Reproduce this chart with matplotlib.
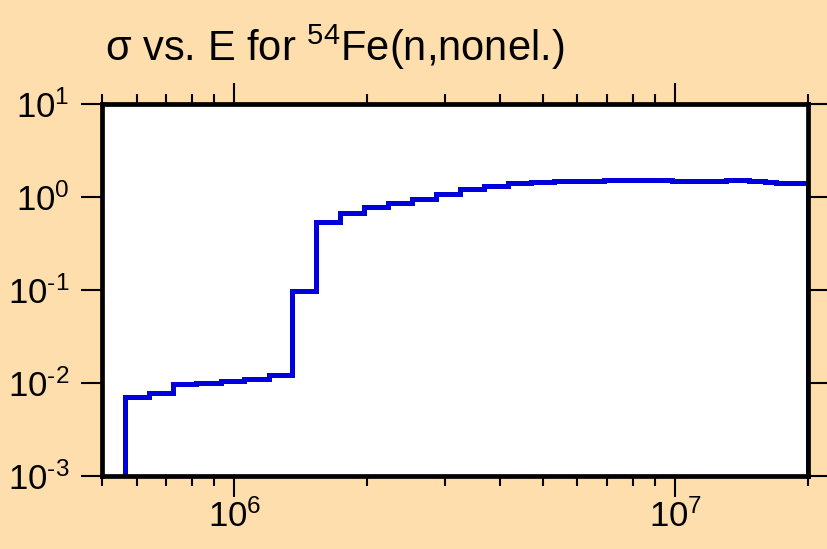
import matplotlib
matplotlib.use("Agg")
import matplotlib.pyplot as plt
import matplotlib.ticker as mticker
import numpy as np

plt.rcParams['font.family'] = ['Liberation Sans', 'DejaVu Sans']
plt.rcParams['mathtext.fontset'] = 'custom'
plt.rcParams['mathtext.rm'] = 'Liberation Sans'
plt.rcParams['mathtext.it'] = 'Liberation Sans'
plt.rcParams['mathtext.default'] = 'regular'

# Bin edges (eV) and cross sections (b)
energy_edges = [5.64e5, 6.41e5, 7.24e5, 8.2e5, 9.3e5, 1.054e6, 1.196e6, 1.351e6,
                1.534e6, 1.738e6, 1.97e6, 2.23e6, 2.53e6, 2.87e6, 3.25e6, 3.69e6,
                4.17e6, 4.71e6, 5.32e6, 6.06e6, 6.90e6, 8.73e6, 9.85e6, 1.09e7,
                1.19e7, 1.30e7, 1.47e7, 1.60e7, 1.69e7, 2.0e7]
sigma = [0.0070, 0.00774, 0.00966, 0.0100, 0.0104, 0.0111, 0.0122, 0.0964,
         0.537, 0.675, 0.774, 0.863, 0.944, 1.076, 1.22, 1.32,
         1.39, 1.43, 1.47, 1.49, 1.51, 1.51, 1.49, 1.48,
         1.49, 1.51, 1.48, 1.45, 1.39]

xlim = (5e5, 2e7)
ylim = (1e-3, 1e1)
title = r'σ vs. E for $\mathregular{^{54}}$Fe(n,nonel.)'

bg = '#FFDEAD'
fig = plt.figure(figsize=(8.27, 5.49), dpi=100, facecolor=bg)
ax = fig.add_axes([0.123, 0.1335, 0.854, 0.6775])
ax.set_facecolor('white')

ax.stairs(sigma, energy_edges, baseline=ylim[0], color='#0000DD', linewidth=3.6)

ax.set_xscale('log')
ax.set_yscale('log')
ax.set_xlim(*xlim)
ax.set_ylim(*ylim)

ax.xaxis.set_major_locator(mticker.LogLocator(base=10, numticks=10))
ax.xaxis.set_minor_locator(mticker.LogLocator(base=10, subs=np.arange(2, 10), numticks=20))
ax.yaxis.set_major_locator(mticker.LogLocator(base=10, numticks=10))
ax.yaxis.set_minor_locator(mticker.NullLocator())

def fmt(v, pos):
    e = int(round(np.log10(v)))
    s = str(abs(e))
    if e < 0:
        s = '\u2010' + s
    return r'$\mathregular{10^{%s}}$' % s

ax.xaxis.set_major_formatter(mticker.FuncFormatter(fmt))
ax.yaxis.set_major_formatter(mticker.FuncFormatter(fmt))

for s in ax.spines.values():
    s.set_linewidth(3.4)
    s.set_color('black')

ax.tick_params(which='major', direction='out', length=15, width=1.5, color='black',
               labelsize=25, top=True, right=True, labeltop=False, labelright=False)
ax.tick_params(which='minor', direction='out', length=7.5, width=1.5, color='black',
               top=True, right=True)
ax.tick_params(axis='y', which='major', pad=8)
ax.tick_params(axis='x', which='major', pad=2)

fig.text(105 / 827, 1 - 61 / 549, title, fontsize=30, va='baseline', ha='left')

fig.savefig('out.png', dpi=100, facecolor=bg)
